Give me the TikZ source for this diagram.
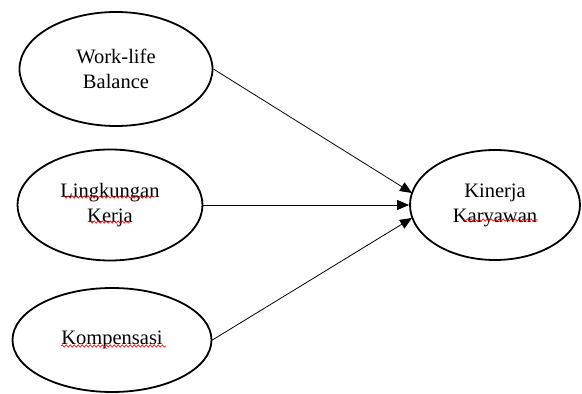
\documentclass[tikz,border=0pt]{standalone}
\usepackage{fontspec}
\setmainfont{Liberation Serif}
\usetikzlibrary{shapes.geometric,arrows.meta,decorations.pathmorphing}
\begin{document}
\begin{tikzpicture}[x=1pt,y=1pt,
  var/.style={ellipse,draw,line width=1.8pt,inner sep=0pt,align=center,
    font=\fontsize{20.5}{25}\selectfont},
  link/.style={line width=0.8pt,-{Triangle[length=12pt,width=10pt]}},
  spell/.style={red,line width=0.6pt,decorate,
    decoration={snake,amplitude=1.2pt,segment length=4pt}}]
\useasboundingbox (0,0) rectangle (582,394);
\node[var,minimum width=193,minimum height=114] (wlb) at (116,325) {Work-life\\Balance};
\node[var,minimum width=185,minimum height=111] (lk) at (110,189) {Lingkungan\\Kerja};
\node[var,minimum width=199,minimum height=104] (komp) at (112,54) {Kompensasi};
\node[var,minimum width=170,minimum height=110] (kk) at (495,189) {Kinerja\\Karyawan};
\coordinate (t1) at (412,201);
\coordinate (t3) at (412,176);
\draw[link] (wlb.east) -- (t1);
\draw[link] (lk.east) -- (kk.west);
\draw[link] (komp.east) -- (t3);
% spell-check marks
\draw[spell] (63,197) -- (155,197);
\draw[spell] (89,172) -- (130,172);
\draw[spell] (61,48) -- (166,48);
\draw[spell] (462,174) -- (538,174);
\end{tikzpicture}
\end{document}
